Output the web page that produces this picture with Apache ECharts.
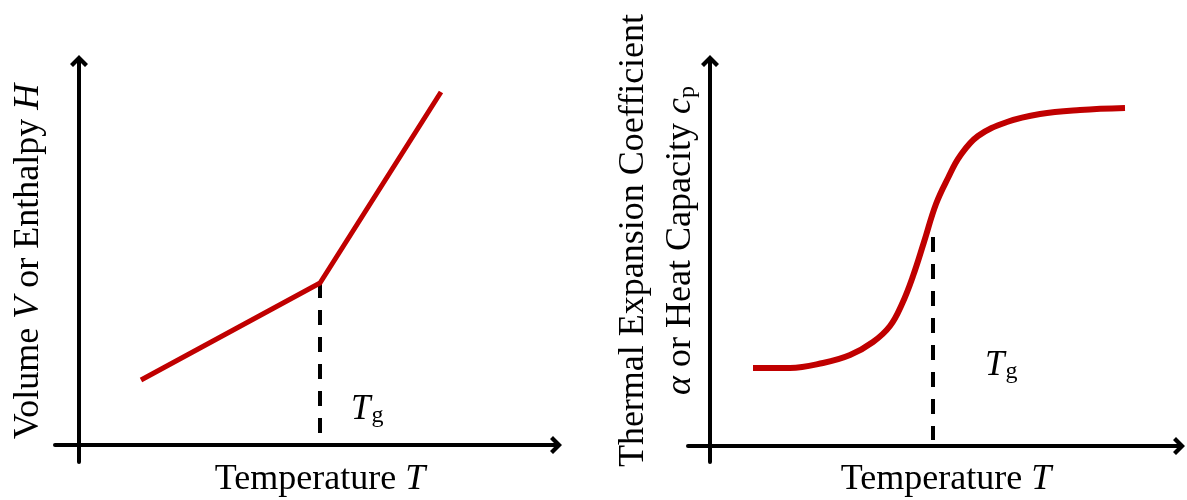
<!DOCTYPE html>
<html>
<head>
<meta charset="utf-8">
<script src="https://cdn.jsdelivr.net/npm/echarts@6/dist/echarts.min.js"></script>
<style>html,body{margin:0;padding:0;background:#fff;}#c{width:1187px;height:500px;}</style>
</head>
<body>
<div id="c"></div>
<script>
// Left panel: Volume/Enthalpy vs Temperature (arbitrary units)
const leftTemp = [62, 241, 362];
const leftVH = [65, 162, 353];
const leftTg = 241;
const leftDash = [162, 12];
const leftTgLabel = [272, 35];

// Right panel: thermal expansion coefficient / heat capacity vs Temperature
const rightTemp = [43, 80, 113, 140, 163, 180, 192, 203, 214, 226, 238, 250, 268, 297, 330, 370, 415];
const rightCp = [78, 78, 83, 91, 104, 120, 142, 170, 204, 242, 268, 290, 310, 324, 332, 336, 338];
const rightTg = 223;
const rightDash = [209, 6];
const rightTgLabel = [275, 80];

const leftXRange = [-24, 477], leftYRange = [-17, 384];
const rightXRange = [-22, 469], rightYRange = [-16, 385];

const FONT = 'Liberation Serif';
const RED = '#C00000';
const arrowPath = 'path://M0,0 L9,9 L6,12 L0,6 L-6,12 L-9,9 Z';

function axisLine() {
  return {
    show: true, onZero: true,
    symbol: ['none', arrowPath], symbolSize: [18, 12],
    lineStyle: { color: '#000', width: 4 }
  };
}
const richBase = {
  i: { fontFamily: FONT, fontSize: 36, fontStyle: 'italic', color: '#000' }
};
function xAxis(idx, range, pad) {
  return {
    type: 'value', gridIndex: idx, min: range[0], max: range[1],
    axisLine: axisLine(), axisTick: { show: false }, axisLabel: { show: false }, splitLine: { show: false },
    name: 'Temperature {i|T}', nameLocation: 'middle', nameGap: 0, nameMoveOverlap: false,
    nameTextStyle: { fontFamily: FONT, fontSize: 36, color: '#000', lineHeight: 36, padding: [0, 0, 0, pad], rich: richBase }
  };
}
function yAxis(idx, range, name, gap, pad, lh) {
  return {
    type: 'value', gridIndex: idx, min: range[0], max: range[1],
    axisLine: axisLine(), axisTick: { show: false }, axisLabel: { show: false }, splitLine: { show: false },
    name: name, nameLocation: 'middle', nameRotate: 90, nameGap: gap, nameMoveOverlap: false,
    nameTextStyle: { fontFamily: FONT, fontSize: 36, color: '#000', lineHeight: lh, align: 'center', padding: [0, 0, 0, pad],
      rich: {
        i: { fontFamily: FONT, fontSize: 36, fontStyle: 'italic', color: '#000', lineHeight: lh },
        s: { fontFamily: FONT, fontSize: 24, color: '#000', lineHeight: lh, padding: [14, 0, 0, 0] }
      } }
  };
}
function tgLabel(idx, pt) {
  return {
    type: 'scatter', xAxisIndex: idx, yAxisIndex: idx, data: [pt], symbolSize: 0,
    itemStyle: { color: '#000', opacity: 1 }, silent: true,
    label: { show: true, position: 'right', distance: 0, color: '#000', opacity: 1, formatter: '{t|T}{g|g}',
      rich: {
        t: { fontFamily: FONT, fontSize: 35, fontStyle: 'italic', color: '#000', verticalAlign: 'top', lineHeight: 36 },
        g: { fontFamily: FONT, fontSize: 24, color: '#000', verticalAlign: 'bottom', lineHeight: 24, padding: [20, 0, 0, 1] }
      } }
  };
}

const chart = echarts.init(document.getElementById('c'), null, { renderer: 'canvas' });
chart.setOption({
  backgroundColor: '#fff',
  animation: false,
  grid: [
    { left: 55, right: 1187 - 556, top: 61, bottom: 38, containLabel: false, outerBoundsMode: 'none' },
    { left: 688, right: 1187 - 1179, top: 61, bottom: 38, containLabel: false, outerBoundsMode: 'none' }
  ],
  xAxis: [xAxis(0, leftXRange, 29), xAxis(1, rightXRange, 25)],
  yAxis: [
    yAxis(0, leftYRange, 'Volume {i|V} or Enthalpy {i|H}', 6, 0, 40),
    yAxis(1, rightYRange, 'Thermal Expansion Coefficient\n{i|α} or Heat Capacity {i|c}{s|p}', -16, 42, 47)
  ],
  series: [
    { type: 'line', xAxisIndex: 0, yAxisIndex: 0, data: leftTemp.map((t, k) => [t, leftVH[k]]),
      symbol: 'none', lineStyle: { color: RED, width: 5 }, z: 3 },
    { type: 'line', xAxisIndex: 0, yAxisIndex: 0, data: leftDash.map(v => [leftTg, v]),
      symbol: 'none', lineStyle: { color: '#000', width: 4, type: [15, 12] }, z: 2 },
    { type: 'line', xAxisIndex: 1, yAxisIndex: 1, data: rightTemp.map((t, k) => [t, rightCp[k]]),
      symbol: 'none', smooth: 0.4, lineStyle: { color: RED, width: 6 }, z: 3 },
    { type: 'line', xAxisIndex: 1, yAxisIndex: 1, data: rightDash.map(v => [rightTg, v]),
      symbol: 'none', lineStyle: { color: '#000', width: 4, type: [15, 12] }, z: 2 },
    tgLabel(0, leftTgLabel),
    tgLabel(1, rightTgLabel)
  ]
});
</script>
</body>
</html>
